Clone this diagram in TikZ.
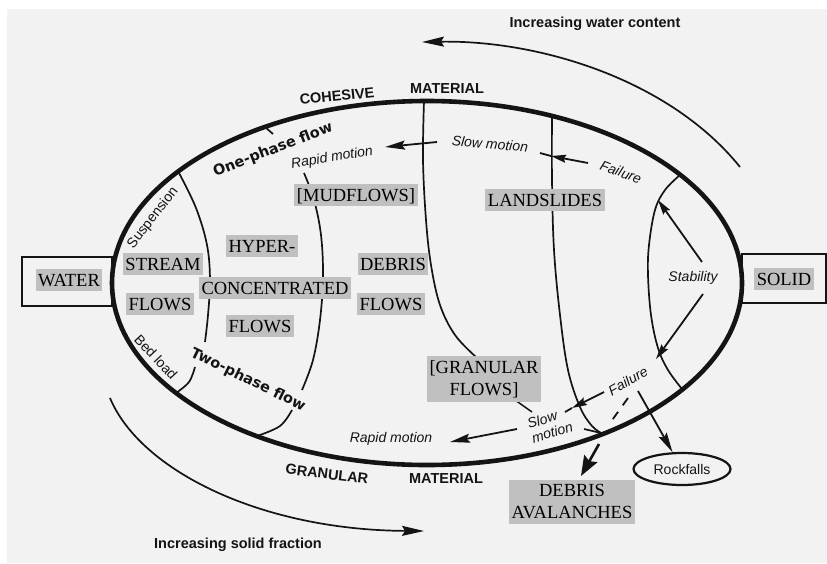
\documentclass[tikz,border=0pt]{standalone}
\usepackage{fontspec}
\setmainfont{Liberation Sans}
\newfontfamily\tagface{Liberation Serif}
\newfontfamily\phaseface{DejaVu Sans}
\usetikzlibrary{arrows.meta,shapes.geometric}
\definecolor{paper}{HTML}{F2F2F2}
\definecolor{screen}{HTML}{C0C0C0}
\definecolor{ink}{HTML}{141414}

\begin{document}
\begin{tikzpicture}[x=1pt,y=-1pt,
  every node/.style={inner sep=0pt, text=ink},
  rim/.style={draw=ink, line width=4.6pt},
  divider/.style={draw=ink, line width=1.7pt},
  frame/.style={draw=ink, line width=2.2pt},
  tagbase/.style={fill=screen, inner xsep=2.5pt, inner ysep=4.5pt, text=black, font=\tagface\fontsize{18.5}{22}\selectfont},
  tag/.style={tagbase, text height=12.6pt, text depth=0.4pt},
  headlabel/.style={font=\bfseries\fontsize{14.5}{16}\selectfont},
  note/.style={font=\itshape\fontsize{14}{15}\selectfont},
  plainnote/.style={font=\fontsize{14}{15}\selectfont},
  phaselabel/.style={font=\phaseface\bfseries\fontsize{14.5}{16}\selectfont},
  flowarrow/.style={draw=ink, line width=1.8pt, -{Stealth[length=15pt,width=8pt,inset=2pt]}},
  longarrow/.style={draw=ink, line width=1.8pt, -{Stealth[length=20pt,width=9pt,inset=3pt]}},
  trendarrow/.style={draw=ink, line width=1.7pt, -{Stealth[length=22pt,width=10pt,inset=3pt]}},
  bigarrow/.style={draw=ink, line width=2.6pt, -{Stealth[length=20pt,width=15pt,inset=3pt]}},
]
% page and paper
\useasboundingbox (0,0) rectangle (827,563);
\fill[white] (0,0) rectangle (827,563);
\fill[paper] (7,9) rectangle (827,563);

% end-member boxes
\node[frame, minimum width=90pt, minimum height=49pt] (waterframe) at (67,281.5) {};
\node[frame, minimum width=84pt, minimum height=49pt] (solidframe) at (784,278.5) {};

% main ellipse
\draw[rim] (427,283) ellipse [x radius=315pt, y radius=182pt];

% suspension / bed load boundary
\draw[divider] plot[smooth, tension=0.6] coordinates {(179,173) (196,208) (207,245) (210,280) (208,315) (205,342)};
\draw[divider] plot[smooth, tension=0.6] coordinates {(195,367) (189,382) (176,393)};
% one-phase / two-phase boundary
\draw[divider] (265,127) -- (273,134);
\draw[divider] plot[smooth, tension=0.6] coordinates {(304,173) (314,200) (321,235) (323,277) (320,320) (313,360) (302,390)};
\draw[divider] plot[smooth, tension=0.6] coordinates {(292,410) (280,426) (257,436)};
% cohesive / granular boundary
\draw[divider] plot[smooth, tension=0.6] coordinates {(424,101) (423,160) (426,220) (431,265) (440,305) (455,335) (476,357)};
% landslide boundary
\draw[divider] plot[smooth, tension=0.6] coordinates {(552,116) (552,180) (554,250) (560,315) (568,370) (580,407) (592,426) (603,434)};
\draw[divider] (584,429) -- (601,433);
% stability zone
\draw[divider] plot[smooth, tension=0.6] coordinates {(680,175) (665,190) (655,210) (649,245) (648,275) (651,315) (658,348) (668,370) (682,389)};

% trend arrows outside the ellipse
\coordinate (waterStart) at (740,167);
\coordinate (waterEnd) at (422,42);
\draw[trendarrow] (waterStart) .. controls (670,80) and (540,40) .. (waterEnd);
\coordinate (solidStart) at (110,398);
\coordinate (solidEnd) at (424,531);
\draw[trendarrow] (solidStart) .. controls (140,470) and (260,530) .. (solidEnd);

% motion arrows
\coordinate (slowTopTail) at (437,142);
\coordinate (slowTopTip) at (385,147);
\draw[longarrow] (slowTopTail) -- (slowTopTip);

\coordinate (failTopTail) at (588,163);
\coordinate (failTopTip) at (551,156);
\coordinate (failTopEnd) at (540,153);
\draw[flowarrow] (failTopTail) -- (failTopTip);
\draw[draw=ink, line width=1.8pt] (failTopTip) -- (failTopEnd);

\coordinate (stabUpTail) at (702,262);
\coordinate (stabUpTip) at (658,200);
\draw[flowarrow] (stabUpTail) -- (stabUpTip);
\coordinate (stabDnTail) at (703,294);
\coordinate (stabDnTip) at (656,359);
\draw[flowarrow] (stabDnTail) -- (stabDnTip);

\coordinate (failBotTail) at (604,392);
\coordinate (failBotTip) at (572,408);
\coordinate (failBotEnd) at (565,412);
\draw[flowarrow] (failBotTail) -- (failBotTip);
\draw[draw=ink, line width=1.8pt] (failBotTip) -- (failBotEnd);

\coordinate (rapidBotTail) at (517,429);
\coordinate (rapidBotTip) at (450,442);
\draw[longarrow] (rapidBotTail) -- (rapidBotTip);

\coordinate (fallA) at (628,398);
\coordinate (fallB) at (610,423);
\draw[draw=ink, line width=1.8pt, dash pattern=on 9pt off 8pt] (fallA) -- (fallB);

\coordinate (granLink) at (515,400);
\coordinate (slowLink) at (532,412);
\draw[draw=ink, line width=1.5pt] (granLink) -- (slowLink);

% rockfalls
\node[draw=ink, ellipse, line width=2.2pt, minimum width=97pt, minimum height=32pt, font=\fontsize{14}{15}\selectfont] (rock) at (682,469) {Rockfalls};
\coordinate (rockTail) at (638,391);
\draw[longarrow] (rockTail) -- (rock);

% debris avalanches
\coordinate (avalTail) at (599,444);
\coordinate (avalTip) at (581,476);
\draw[bigarrow] (avalTail) -- (avalTip);

% shaded process labels
\node[tag] (water) at (69,280) {WATER};
\node[tag] (streamA) at (163,264) {STREAM};
\node[tag] (streamB) at (160,304) {FLOWS};
\node[tag] (hyperA) at (262,246) {HYPER-};
\node[tag] (hyperB) at (275,288) {CONCENTRATED};
\node[tag] (hyperC) at (260,326) {FLOWS};
\node[tag] (mud) at (356,195) {[MUDFLOWS]};
\node[tag] (debrisA) at (393,264) {DEBRIS};
\node[tag] (debrisB) at (391,304) {FLOWS};
\node[tag] (land) at (545,200) {LANDSLIDES};
\node[tagbase, align=center] (gran) at (484,379) {[GRANULAR\\FLOWS]};
\node[tagbase, align=center] (aval) at (572,502) {DEBRIS\\AVALANCHES};
\node[tag] (solid) at (784,279) {SOLID};

% headings
\node[headlabel, rotate=6] (cohesive) at (337,96) {COHESIVE};
\node[headlabel] (matTop) at (447,89) {MATERIAL};
\node[headlabel, rotate=-7] (granular) at (327,474) {GRANULAR};
\node[headlabel] (matBot) at (446,479) {MATERIAL};
\node[headlabel] (waterTrend) at (595,24) {Increasing water content};
\node[headlabel] (solidTrend) at (238,545) {Increasing solid fraction};

% flow regime labels
\node[phaselabel, rotate=21] (onePhase) at (273,150) {One-phase flow};
\node[phaselabel, rotate=-26] (twoPhase) at (248,380) {Two-phase flow};
\node[plainnote, rotate=52] (susp) at (153,218) {Suspension};
\node[plainnote, rotate=-47] (bed) at (156,357) {Bed load};

% motion labels
\node[note, rotate=9] (rapidTop) at (332,158) {Rapid motion};
\node[note, rotate=-5] (slowTop) at (490,144) {Slow motion};
\node[note, rotate=-21] (failTop) at (621,172) {Failure};
\node[note] (stab) at (693,278) {Stability};
\node[note, rotate=30] (failBot) at (628,381) {Failure};
\node[note, rotate=17, align=left] (slowBot) at (550,425) {Slow\\motion};
\node[note] (rapidBot) at (391,439) {Rapid motion};
\end{tikzpicture}
\end{document}
